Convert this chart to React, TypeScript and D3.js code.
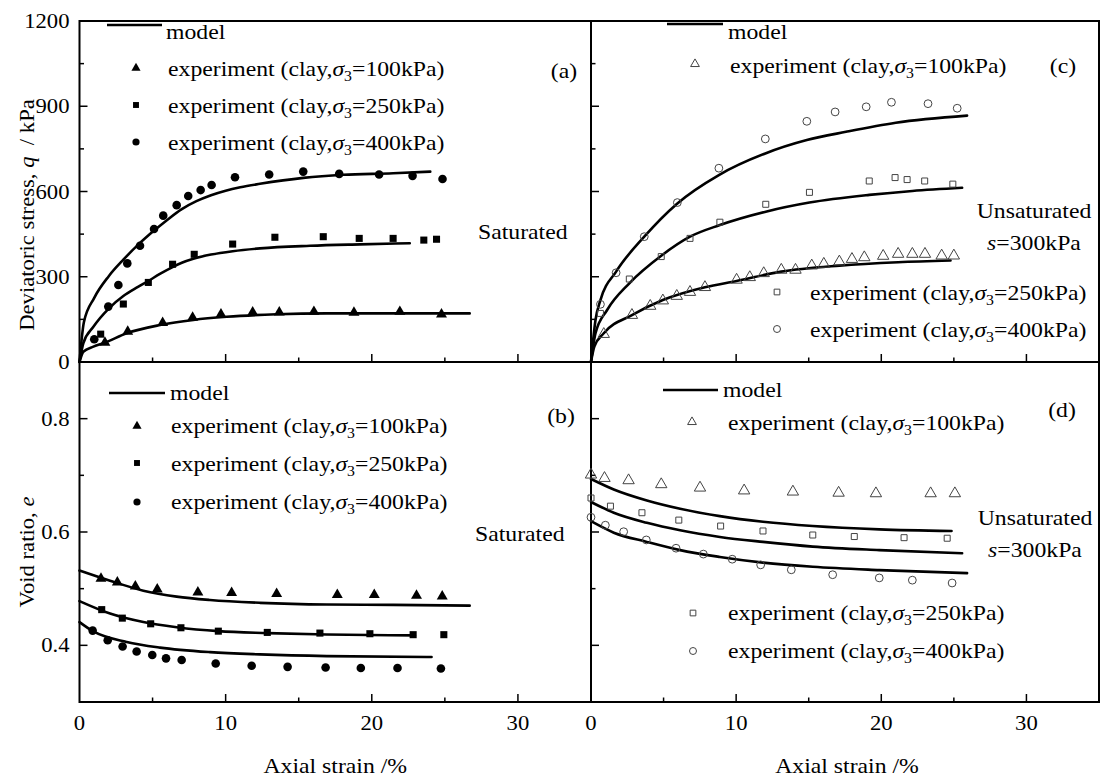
import React from "react";
import * as d3 from "d3";

// ---------- data ----------
// Panel (a): saturated, deviatoric stress q (kPa) vs axial strain (%)
const aExp100: [number, number][] = [[1.74,68],[3.3,107],[5.69,138],[7.74,156],[9.68,168],[11.85,175],[13.67,175],[16.04,177],[18.78,174],[21.92,177],[24.77,168]];
const aExp250: [number, number][] = [[1.45,98],[3.0,204],[4.71,280],[6.37,344],[7.85,379],[10.48,415],[13.37,439],[16.68,441],[19.14,435],[21.46,435],[23.56,429],[24.43,432]];
const aExp400: [number, number][] = [[1.01,80],[1.97,195],[2.66,271],[3.27,347],[4.14,409],[5.1,468],[5.73,515],[6.65,552],[7.44,584],[8.29,605],[9.04,623],[10.64,650],[12.98,660],[15.31,670],[17.77,662],[20.5,660],[22.79,655],[24.84,644]];
const aModel100: [number, number][] = [[0,0],[0.26,36],[0.95,54],[1.74,68],[3.23,101],[5.51,130],[7.79,148],[10.07,159],[13.49,168],[16.91,171],[21.46,171],[26.7,171]];
const aModel250: [number, number][] = [[0,0],[0.26,66],[0.95,124],[2.0,188],[3.0,232],[4.0,264],[4.71,285],[5.5,310],[6.37,334],[7.0,349],[7.79,363],[9.0,378],[10.48,390],[12.35,400],[15.77,409],[19.19,414],[22.6,418]];
const aModel400: [number, number][] = [[0,0],[0.3,140],[1.0,225],[2.0,302],[3.0,360],[4.0,412],[5.0,458],[6.0,500],[7.0,538],[8.0,566],[9.0,587],[10.0,603],[11.0,615],[12.35,627],[15.31,648],[18.04,659],[21.46,664],[24.0,670]];

// Panel (b): saturated, void ratio e vs axial strain (%)
const bExp100: [number, number][] = [[1.47,0.518],[2.59,0.511],[3.82,0.504],[5.32,0.499],[8.1,0.4935],[10.41,0.4925],[13.49,0.4907],[17.64,0.489],[20.17,0.489],[23.06,0.4877],[24.82,0.4865]];
const bExp250: [number, number][] = [[1.52,0.463],[2.93,0.448],[4.87,0.438],[6.94,0.431],[9.5,0.425],[12.85,0.4228],[16.45,0.4216],[19.87,0.4205],[22.83,0.4188],[24.93,0.4188]];
const bExp400: [number, number][] = [[0.9,0.426],[1.93,0.409],[2.95,0.398],[3.91,0.389],[4.98,0.383],[5.92,0.377],[6.99,0.374],[9.32,0.368],[11.78,0.364],[14.24,0.362],[16.84,0.361],[19.25,0.36],[21.76,0.36],[24.73,0.359]];
const bModel100: [number, number][] = [[0,0.532],[2.09,0.514],[4.37,0.4965],[6.65,0.486],[8.93,0.48],[12.35,0.475],[16.91,0.472],[21.46,0.4714],[26.7,0.47]];
const bModel250: [number, number][] = [[0,0.478],[2.09,0.456],[4.37,0.441],[6.65,0.432],[9.5,0.425],[12.85,0.4216],[16.91,0.419],[22.95,0.4175]];
const bModel400: [number, number][] = [[0,0.441],[0.95,0.4245],[3.23,0.406],[5.51,0.396],[8.93,0.388],[12.35,0.384],[16.91,0.381],[24.09,0.3795]];

// Panel (c): unsaturated s=300kPa, q vs strain
const cExp100: [number, number][] = [[0.88,98],[2.82,165],[4.08,197],[4.95,216],[5.91,232],[6.82,246],[7.85,263],[10.03,289],[10.94,298],[11.9,312],[13.11,324],[14.09,324],[15.21,339],[16.04,345],[17.11,353],[17.98,362],[18.83,368],[20.13,373],[21.16,380],[22.14,380],[23.01,380],[24.16,374],[25.0,374]];
const cExp250: [number, number][] = [[0.65,171],[2.64,292],[4.84,371],[6.82,435],[8.88,492],[12.04,555],[15.05,597],[19.17,637],[20.95,649],[21.78,642],[22.99,637],[24.93,626]];
const cExp400: [number, number][] = [[0.65,203],[1.73,314],[3.67,441],[5.95,561],[8.81,682],[12.01,785],[14.87,847],[16.82,880],[18.96,898],[20.7,914],[23.22,909],[25.23,893]];
const cModel100: [number, number][] = [[0,0],[0.23,54],[0.88,101],[2.82,165],[4.95,218],[7.85,263],[10.03,285],[13.11,318],[17.11,339],[21.16,351],[24.77,357]];
const cModel250: [number, number][] = [[0,0],[0.31,101],[1.11,183],[2.64,277],[4.84,374],[6.82,441],[8.88,482],[12.04,529],[15.05,561],[19.17,588],[22.14,602],[25.57,613]];
const cModel400: [number, number][] = [[0,0],[0.31,148],[0.65,218],[1.73,318],[3.67,441],[5.95,558],[8.81,658],[12.01,734],[14.87,781],[17.57,810],[21.0,842],[25.91,867]];

// Panel (d): unsaturated s=300kPa, e vs strain
const dExp100: [number, number][] = [[0,0.701],[0.93,0.695],[2.59,0.691],[4.84,0.684],[7.51,0.678],[10.55,0.673],[13.91,0.671],[17.06,0.669],[19.63,0.668],[23.4,0.668],[25.07,0.668]];
const dExp250: [number, number][] = [[0,0.66],[1.34,0.6456],[3.51,0.634],[6.05,0.621],[8.93,0.6105],[11.85,0.6018],[15.28,0.5947],[18.14,0.592],[21.57,0.59],[24.54,0.589]];
const dExp400: [number, number][] = [[0,0.626],[0.99,0.612],[2.25,0.6005],[3.81,0.586],[5.86,0.5714],[7.74,0.561],[9.73,0.552],[11.69,0.542],[13.8,0.5333],[16.65,0.5246],[19.86,0.519],[22.14,0.515],[24.88,0.51]];
const dModel100: [number, number][] = [[0,0.6935],[1.57,0.675],[3.85,0.6556],[6.14,0.641],[8.88,0.628],[11.85,0.618],[15.28,0.6105],[19.86,0.6047],[24.84,0.6018]];
const dModel250: [number, number][] = [[0,0.653],[1.57,0.634],[3.85,0.6163],[6.14,0.603],[8.88,0.5912],[11.85,0.5825],[15.28,0.5742],[19.86,0.568],[25.57,0.5626]];
const dModel400: [number, number][] = [[0,0.619],[1.57,0.5988],[3.85,0.5825],[6.14,0.568],[8.88,0.556],[11.85,0.546],[15.28,0.5386],[19.86,0.5328],[25.91,0.5275]];

const xTicks = [0, 10, 20, 30];
const xMinor = [5, 15, 25];
const qTicks = [0, 300, 600, 900, 1200];
const qMinor = [150, 450, 750, 1050];
const eTicks = [0.4, 0.6, 0.8];
const eMinor = [0.3, 0.5, 0.7, 0.9];

const FONT = "'Liberation Serif', 'Times New Roman', serif";
const FS = 21;
const SX = 1.13; // horizontal stretch of text as in the reference

// ---------- geometry ----------
const L = 79.5, M = 591, R = 1099, T = 21, H = 362, B = 702;

const xLeft = d3.scaleLinear().domain([0, 35]).range([L, M]);
const xRight = d3.scaleLinear().domain([0, 35]).range([M, R]);
const yQ = d3.scaleLinear().domain([0, 1200]).range([H, T]);
const yE = d3.scaleLinear().domain([0.3, 0.9]).range([B, H]);

type Pt = [number, number];
type Sc = d3.ScaleLinear<number, number>;

function ST({ x, y, anchor = "start", sx = SX, rotate = 0, children }: { x: number; y: number; anchor?: string; sx?: number; rotate?: number; children: React.ReactNode }) {
  return (
    <text
      transform={`translate(${x},${y}) rotate(${rotate}) scale(${sx},1)`}
      textAnchor={anchor as any}
      fontFamily={FONT}
      fontSize={FS}
      fill="#000"
    >
      {children}
    </text>
  );
}

function Curve({ data, x, y }: { data: Pt[]; x: Sc; y: Sc }) {
  const gen = d3.line<Pt>().x(d => x(d[0])).y(d => y(d[1])).curve(d3.curveMonotoneX);
  return <path d={gen(data) || ""} fill="none" stroke="#000" strokeWidth={2.6} strokeLinecap="round" />;
}

const triPath = (s: number) => d3.symbol().type(d3.symbolTriangle).size(s)() || "";
const sqPath = (s: number) => d3.symbol().type(d3.symbolSquare).size(s)() || "";

function Marker({ kind, cx, cy, filled, scale = 1 }: { kind: string; cx: number; cy: number; filled: boolean; scale?: number }) {
  const fill = filled ? "#000" : "none";
  const stroke = filled ? "none" : "#444";
  if (kind === "tri") {
    return <path transform={`translate(${cx},${cy})`} d={triPath((filled ? 52 : 56) * scale)} fill={fill} stroke={stroke} strokeWidth={1} />;
  }
  if (kind === "sq") {
    return <path transform={`translate(${cx},${cy})`} d={sqPath((filled ? 50 : 36) * scale)} fill={fill} stroke={stroke} strokeWidth={1} />;
  }
  return <circle cx={cx} cy={cy} r={(filled ? 4.3 : 3.9) * Math.sqrt(scale)} fill={fill} stroke={stroke} strokeWidth={1} />;
}

function Points({ data, x, y, kind, filled }: { data: Pt[]; x: Sc; y: Sc; kind: string; filled: boolean }) {
  return (
    <g>
      {data.map((d, i) => (
        <Marker key={i} kind={kind} cx={x(d[0])} cy={y(d[1])} filled={filled} />
      ))}
    </g>
  );
}

function ExpLabel({ x, y, p }: { x: number; y: number; p: string }) {
  return (
    <ST x={x} y={y}>
      <tspan>experiment (clay,</tspan>
      <tspan fontStyle="italic">σ</tspan>
      <tspan fontSize={14} dy={5}>3</tspan>
      <tspan dy={-5}>={p}kPa)</tspan>
    </ST>
  );
}

function XAxisTicks({ x, y }: { x: Sc; y: number }) {
  return (
    <g stroke="#000" strokeWidth={1.5}>
      {xTicks.filter(t => t > 0).map(t => <line key={t} x1={x(t)} x2={x(t)} y1={y} y2={y - 8} />)}
      {xMinor.map(t => <line key={t} x1={x(t)} x2={x(t)} y1={y} y2={y - 4.5} />)}
    </g>
  );
}

function YAxisTicks({ x, y, major, minor }: { x: number; y: Sc; major: number[]; minor: number[] }) {
  const [lo, hi] = y.domain();
  return (
    <g stroke="#000" strokeWidth={1.5}>
      {major.filter(t => t > lo && t < hi).map(t => <line key={t} x1={x} x2={x + 8} y1={y(t)} y2={y(t)} />)}
      {minor.filter(t => t > lo && t < hi).map(t => <line key={t} x1={x} x2={x + 4.5} y1={y(t)} y2={y(t)} />)}
    </g>
  );
}

export default function App() {
  return (
    <svg width={1102} height={778} style={{ position: "absolute", left: 0, top: 0, background: "#fff" }}>
      <rect x={0} y={0} width={1102} height={778} fill="#fff" />

      {/* ticks */}
      <XAxisTicks x={xLeft} y={H} />
      <XAxisTicks x={xRight} y={H} />
      <XAxisTicks x={xLeft} y={B} />
      <XAxisTicks x={xRight} y={B} />
      <YAxisTicks x={L} y={yQ} major={qTicks} minor={qMinor} />
      <YAxisTicks x={M} y={yQ} major={qTicks} minor={qMinor} />
      <YAxisTicks x={L} y={yE} major={eTicks} minor={eMinor} />
      <YAxisTicks x={M} y={yE} major={eTicks} minor={eMinor} />

      {/* frame */}
      <g stroke="#000" strokeWidth={2} fill="none">
        <rect x={L} y={T} width={R - L} height={B - T} />
        <line x1={M} x2={M} y1={T} y2={B} />
        <line x1={L} x2={R} y1={H} y2={H} />
      </g>

      {/* tick labels */}
      {qTicks.map(t => (
        <ST key={"q" + t} x={L - 10} y={yQ(t) + 7} anchor="end" sx={1.08}>{t}</ST>
      ))}
      {eTicks.map(t => (
        <ST key={"e" + t} x={L - 10} y={yE(t) + 7} anchor="end" sx={1.08}>{t.toFixed(1)}</ST>
      ))}
      {xTicks.map(t => (
        <ST key={"l" + t} x={xLeft(t)} y={B + 28} anchor="middle" sx={1.08}>{t}</ST>
      ))}
      {xTicks.map(t => (
        <ST key={"r" + t} x={xRight(t)} y={B + 28} anchor="middle" sx={1.08}>{t}</ST>
      ))}
      <ST x={(L + M) / 2} y={773} anchor="middle">Axial strain /%</ST>
      <ST x={(M + R) / 2 + 2} y={773} anchor="middle">Axial strain /%</ST>
      <ST x={34} y={215} anchor="middle" rotate={-90} sx={1.08}>
        <tspan>Deviatoric stress, </tspan>
        <tspan fontStyle="italic">q</tspan>
        <tspan>{"\u00a0\u00a0/ kPa"}</tspan>
      </ST>
      <ST x={34} y={552} anchor="middle" rotate={-90} sx={1.08}>
        <tspan>Void ratio, </tspan>
        <tspan fontStyle="italic">e</tspan>
      </ST>

      {/* panel (a) */}
      <Curve data={aModel100} x={xLeft} y={yQ} />
      <Curve data={aModel250} x={xLeft} y={yQ} />
      <Curve data={aModel400} x={xLeft} y={yQ} />
      <Points data={aExp100} x={xLeft} y={yQ} kind="tri" filled />
      <Points data={aExp250} x={xLeft} y={yQ} kind="sq" filled />
      <Points data={aExp400} x={xLeft} y={yQ} kind="circ" filled />

      {/* panel (b) */}
      <Curve data={bModel100} x={xLeft} y={yE} />
      <Curve data={bModel250} x={xLeft} y={yE} />
      <Curve data={bModel400} x={xLeft} y={yE} />
      <Points data={bExp100} x={xLeft} y={yE} kind="tri" filled />
      <Points data={bExp250} x={xLeft} y={yE} kind="sq" filled />
      <Points data={bExp400} x={xLeft} y={yE} kind="circ" filled />

      {/* panel (c) */}
      <Curve data={cModel100} x={xRight} y={yQ} />
      <Curve data={cModel250} x={xRight} y={yQ} />
      <Curve data={cModel400} x={xRight} y={yQ} />
      <Points data={cExp100} x={xRight} y={yQ} kind="tri" filled={false} />
      <Points data={cExp250} x={xRight} y={yQ} kind="sq" filled={false} />
      <Points data={cExp400} x={xRight} y={yQ} kind="circ" filled={false} />

      {/* panel (d) */}
      <Curve data={dModel100} x={xRight} y={yE} />
      <Curve data={dModel250} x={xRight} y={yE} />
      <Curve data={dModel400} x={xRight} y={yE} />
      <Points data={dExp100} x={xRight} y={yE} kind="tri" filled={false} />
      <Points data={dExp250} x={xRight} y={yE} kind="sq" filled={false} />
      <Points data={dExp400} x={xRight} y={yE} kind="circ" filled={false} />

      {/* legends */}
      {/* (a) */}
      <line x1={107} x2={162} y1={25} y2={25} stroke="#000" strokeWidth={2.6} />
      <ST x={166} y={39}>model</ST>
      <Marker kind="tri" cx={136} cy={68} filled scale={0.7} />
      <ExpLabel x={168} y={76} p="100" />
      <Marker kind="sq" cx={136} cy={105} filled scale={0.7} />
      <ExpLabel x={168} y={113} p="250" />
      <Marker kind="circ" cx={136} cy={142} filled scale={0.7} />
      <ExpLabel x={168} y={150} p="400" />
      <ST x={564} y={78} anchor="middle">(a)</ST>
      <ST x={478} y={239}>Saturated</ST>

      {/* (b) */}
      <line x1={109} x2={165} y1={393} y2={393} stroke="#000" strokeWidth={2.6} />
      <ST x={170} y={400}>model</ST>
      <Marker kind="tri" cx={137} cy={426} filled scale={0.7} />
      <ExpLabel x={171} y={433} p="100" />
      <Marker kind="sq" cx={137} cy={463} filled scale={0.7} />
      <ExpLabel x={171} y={471} p="250" />
      <Marker kind="circ" cx={137} cy={502} filled scale={0.7} />
      <ExpLabel x={171} y={509} p="400" />
      <ST x={561} y={423} anchor="middle">(b)</ST>
      <ST x={475} y={541}>Saturated</ST>

      {/* (c) */}
      <line x1={667} x2={723} y1={24} y2={24} stroke="#000" strokeWidth={2.6} />
      <ST x={728} y={39}>model</ST>
      <Marker kind="tri" cx={695} cy={64} filled={false} scale={0.6} />
      <ExpLabel x={730} y={73} p="100" />
      <Marker kind="sq" cx={777} cy={292} filled={false} scale={0.9} />
      <ExpLabel x={810} y={300} p="250" />
      <Marker kind="circ" cx={777} cy={329} filled={false} scale={0.8} />
      <ExpLabel x={810} y={337} p="400" />
      <ST x={1063} y={73} anchor="middle">(c)</ST>
      <ST x={1034} y={218} anchor="middle">Unsaturated</ST>
      <ST x={1034} y={250} anchor="middle">
        <tspan fontStyle="italic">s</tspan>
        <tspan>=300kPa</tspan>
      </ST>

      {/* (d) */}
      <line x1={663} x2={718} y1={390} y2={390} stroke="#000" strokeWidth={2.6} />
      <ST x={723} y={397}>model</ST>
      <Marker kind="tri" cx={692} cy={422} filled={false} scale={0.6} />
      <ExpLabel x={728} y={430} p="100" />
      <Marker kind="sq" cx={693} cy={613} filled={false} scale={0.9} />
      <ExpLabel x={728} y={620} p="250" />
      <Marker kind="circ" cx={693} cy={651} filled={false} scale={0.8} />
      <ExpLabel x={728} y={658} p="400" />
      <ST x={1062} y={417} anchor="middle">(d)</ST>
      <ST x={1035} y={525} anchor="middle">Unsaturated</ST>
      <ST x={1035} y={557} anchor="middle">
        <tspan fontStyle="italic">s</tspan>
        <tspan>=300kPa</tspan>
      </ST>
    </svg>
  );
}
